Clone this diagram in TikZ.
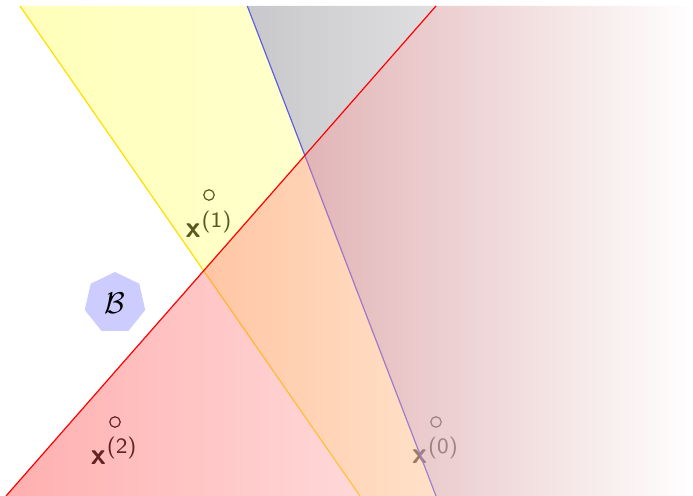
\documentclass[tikz,border=0pt]{standalone}
\usetikzlibrary{shapes.geometric}
\definecolor{redL}{RGB}{255,55,55}
\definecolor{grayL}{RGB}{145,145,152}
\definecolor{yelL}{RGB}{255,255,55}
\definecolor{yelR}{RGB}{255,255,138}
\definecolor{lineY}{RGB}{255,222,0}
\definecolor{lineB}{RGB}{95,95,225}
\definecolor{polyB}{RGB}{204,204,255}
\tikzset{
  pt/.style={circle, draw=black, line width=0.4pt, minimum size=3.5pt, inner sep=0pt},
  lbl/.style={anchor=base, inner sep=0pt, font=\normalsize},
  region/.style={fill opacity=#1, draw=none},
}
\newcommand{\xlab}[1]{\textsf{\textbf{x}}\kern0.3pt\raisebox{3.4pt}{\fontsize{7.3}{8}\selectfont\sffamily(#1)}}
\begin{document}
\begin{tikzpicture}[x=0.333333pt, y=-0.333333pt]
\useasboundingbox (0,0) rectangle (693,496);
% points and labels (drawn below the translucent regions)
\node[pt] (c1) at (209,195) {};
\node[pt] (c2) at (115,422) {};
\node[pt] (c0) at (436,422) {};
\node[lbl] (l1) at (208.5,238) {\xlab{1}};
\node[lbl] (l2) at (113.7,464) {\xlab{2}};
\node[lbl] (l0) at (435,463.5) {\xlab{0}};
% heptagon
\node[regular polygon, regular polygon sides=7, fill=polyB, minimum size=20.67pt, inner sep=0pt] (B) at (115,303) {$\mathcal{B}$};
% line end points
\coordinate (yT) at (20,6);
\coordinate (yB) at (360,496);
\coordinate (bT) at (247.3,6);
\coordinate (bB) at (436,496);
\coordinate (rT) at (436,6);
\coordinate (rB) at (6,496);
\coordinate (TR) at (693,6);
\coordinate (BR) at (693,496);
% gray region
\shade[region=0.5, left color=grayL, right color=white] (bT) -- (TR) -- (BR) -- (bB) -- cycle;
% yellow region
\shade[region=0.35, left color=yelL, right color=yelR] (yT) -- (bT) -- (bB) -- (yB) -- cycle;
\draw[lineB, line width=0.4pt] (bT) -- (bB);
\draw[lineY, line width=0.4pt] (yT) -- (yB);
% red region
\shade[region=0.4, left color=redL, right color=white] (rT) -- (TR) -- (BR) -- (rB) -- cycle;
\draw[red, line width=0.4pt] (rT) -- (rB);
\end{tikzpicture}
\end{document}
